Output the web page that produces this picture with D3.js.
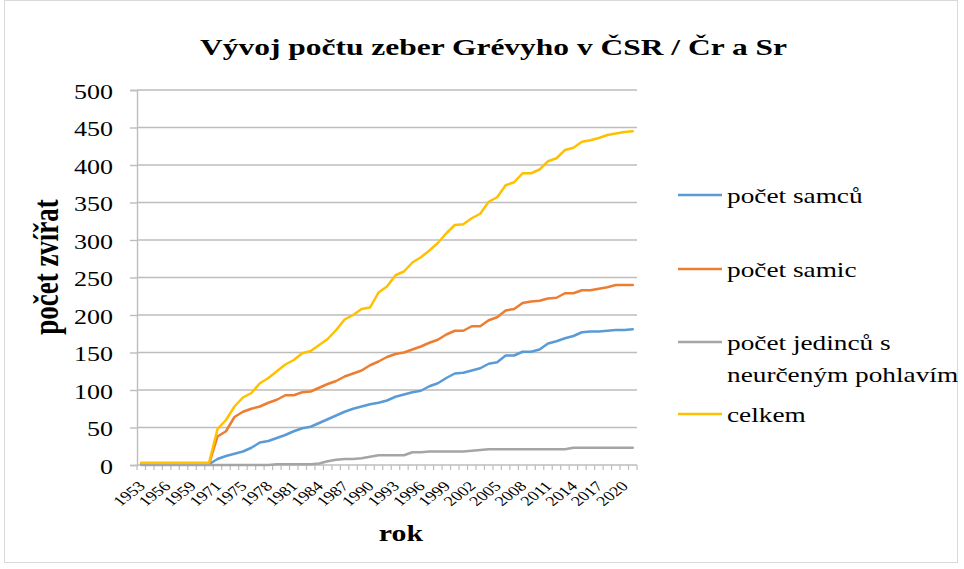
<!DOCTYPE html>
<html>
<head>
<meta charset="utf-8">
<title>Vývoj počtu zeber Grévyho</title>
<script src="https://cdn.jsdelivr.net/npm/d3@7"></script>
<style>
  body { margin: 0; background: #fff; }
  text { font-family: "Liberation Serif", "Times New Roman", serif; fill: #000; }
</style>
</head>
<body>
<svg id="chart" width="964" height="569"></svg>
<script>
// categories (years) - the reference skips some years
var roky = [1953, 1954, 1955, 1956, 1957, 1958, 1959, 1960, 1970, 1971, 1973, 1974,
  1975, 1976, 1977, 1978, 1979, 1980, 1981, 1982, 1983, 1984, 1985, 1986, 1987, 1988,
  1989, 1990, 1991, 1992, 1993, 1994, 1995, 1996, 1997, 1998, 1999, 2000, 2001, 2002,
  2003, 2004, 2005, 2006, 2007, 2008, 2009, 2010, 2011, 2012, 2013, 2014, 2015, 2016,
  2017, 2018, 2019, 2020, 2021];

var samci = [1, 1, 1, 1, 1, 1, 1, 1, 1, 8, 12, 15,
  18, 23, 30, 32, 36, 40, 45, 49, 51, 56, 61, 66, 71, 75,
  78, 81, 83, 86, 91, 94, 97, 99, 105, 109, 116, 122, 123, 126,
  129, 135, 137, 146, 146, 151, 151, 154, 162, 165, 169, 172, 177, 178,
  178, 179, 180, 180, 181];

var samice = [1, 1, 1, 1, 1, 1, 1, 1, 1, 38, 45, 64,
  71, 75, 78, 83, 87, 93, 93, 97, 98, 103, 108, 112, 118, 122,
  126, 133, 138, 144, 148, 150, 154, 158, 163, 167, 174, 179, 179, 185,
  185, 193, 197, 206, 208, 216, 218, 219, 222, 223, 229, 229, 233, 233,
  235, 237, 240, 240, 240];

var neurceno = [0, 0, 0, 0, 0, 0, 0, 0, 0, 0, 0, 0,
  0, 0, 0, 0, 1, 1, 1, 1, 1, 2, 5, 7, 8, 8,
  9, 11, 13, 13, 13, 13, 17, 17, 18, 18, 18, 18, 18, 19,
  20, 21, 21, 21, 21, 21, 21, 21, 21, 21, 21, 23, 23, 23,
  23, 23, 23, 23, 23];

var celkem = [3, 3, 3, 3, 3, 3, 3, 3, 3, 48, 60, 78,
  90, 96, 109, 116, 125, 134, 140, 149, 152, 160, 168, 180, 194, 200,
  208, 210, 230, 238, 253, 258, 270, 277, 286, 296, 309, 320, 321, 329,
  335, 351, 357, 373, 377, 389, 389, 394, 405, 409, 420, 423, 431, 433,
  436, 440, 442, 444, 445];

var yTicks = [0, 50, 100, 150, 200, 250, 300, 350, 400, 450, 500];

var series = [
  {name: "počet samců", values: samci, color: "#5b9bd5"},
  {name: "počet samic", values: samice, color: "#ed7d31"},
  {name: ["počet jedinců s", "neurčeným pohlavím"], values: neurceno, color: "#a5a5a5"},
  {name: "celkem", values: celkem, color: "#ffc000"}
];

var svg = d3.select("#chart");
var sx = 1.3; // text in the reference is stretched sideways
var plot = {left: 137, right: 637, top: 90, bottom: 465};

var x = d3.scaleBand().domain(roky).range([plot.left, plot.right]);
var y = d3.scaleLinear().domain([0, 500]).range([plot.bottom, plot.top]);

// outer frame
svg.append("rect")
  .attr("x", 4.5).attr("y", 0.5)
  .attr("width", 953).attr("height", 562)
  .attr("fill", "none").attr("stroke", "#d9d9d9");

// gridlines
svg.append("g").selectAll("line")
  .data(yTicks.slice(1))
  .enter().append("line")
  .attr("x1", plot.left).attr("x2", plot.right)
  .attr("y1", function(d) { return y(d); })
  .attr("y2", function(d) { return y(d); })
  .attr("stroke", "#bdbdbd").attr("stroke-width", 1.4);

// y axis
var yAxis = svg.append("g")
  .attr("transform", "translate(" + plot.left + ",0)")
  .call(d3.axisLeft(y).tickValues(yTicks).tickSize(7));
yAxis.select(".domain").attr("stroke", "#bdbdbd").attr("stroke-width", 1.4);
yAxis.selectAll(".tick line").attr("stroke", "#bdbdbd").attr("stroke-width", 1.4);
yAxis.selectAll(".tick text")
  .attr("x", 0).attr("dy", "0.36em")
  .attr("transform", "translate(-24,1) scale(" + sx + ",1)")
  .style("font-size", "20px")
  .style("font-family", "Liberation Serif");

// x axis: labels every third category, tick marks between categories
var xAxis = svg.append("g")
  .attr("transform", "translate(0," + plot.bottom + ")")
  .call(d3.axisBottom(x)
    .tickValues(roky.filter(function(d, i) { return i % 3 === 0; }))
    .tickSize(0));
xAxis.select(".domain").remove();
xAxis.selectAll(".tick text")
  .attr("x", 0).attr("y", 0).attr("dy", null)
  .attr("text-anchor", "end")
  .attr("transform", "translate(5,22) scale(" + sx + ",1) rotate(-45)")
  .style("font-size", "14px")
  .style("font-family", "Liberation Serif");

var edges = roky.map(function(d) { return x(d); }).concat([plot.right]);
svg.append("g").selectAll("line")
  .data(edges)
  .enter().append("line")
  .attr("x1", function(d) { return d; }).attr("x2", function(d) { return d; })
  .attr("y1", plot.bottom).attr("y2", plot.bottom + 5)
  .attr("stroke", "#bdbdbd").attr("stroke-width", 1.2);
svg.append("line")
  .attr("x1", plot.left).attr("x2", plot.right)
  .attr("y1", plot.bottom).attr("y2", plot.bottom)
  .attr("stroke", "#bdbdbd").attr("stroke-width", 1.4);

// lines
var line = d3.line()
  .x(function(d, i) { return x(roky[i]) + x.bandwidth() / 2; })
  .y(function(d) { return y(d); });

svg.append("g").selectAll("path")
  .data(series)
  .enter().append("path")
  .attr("d", function(s) { return line(s.values); })
  .attr("fill", "none")
  .attr("stroke", function(s) { return s.color; })
  .attr("stroke-width", 2.5)
  .attr("stroke-linejoin", "round")
  .attr("stroke-linecap", "round");

// titles
svg.append("text")
  .attr("x", 200).attr("y", 55)
  .attr("textLength", 587).attr("lengthAdjust", "spacingAndGlyphs")
  .style("font-size", "24px").style("font-weight", "bold")
  .text("Vývoj počtu zeber Grévyho v ČSR / Čr a Sr");

svg.append("text")
  .attr("transform", "translate(401,541) scale(" + sx + ",1)")
  .attr("text-anchor", "middle")
  .style("font-size", "23px").style("font-weight", "bold")
  .text("rok");

svg.append("text")
  .attr("transform", "translate(58,267) scale(" + sx + ",1) rotate(-90)")
  .attr("text-anchor", "middle")
  .style("font-size", "27px").style("font-weight", "bold")
  .text("počet zvířat");

// legend
var legendY = [195, 269, 342, 414];
var legend = svg.append("g").selectAll("g")
  .data(series)
  .enter().append("g")
  .attr("transform", function(d, i) { return "translate(0," + legendY[i] + ")"; });

legend.append("line")
  .attr("x1", 678).attr("x2", 722)
  .attr("y1", 0).attr("y2", 0)
  .attr("stroke", function(d) { return d.color; })
  .attr("stroke-width", 2.5);

legend.each(function(d) {
  var rows = [].concat(d.name);
  var g = d3.select(this);
  rows.forEach(function(r, j) {
    g.append("text")
      .attr("transform", "translate(727," + (8 + j * 31.5) + ") scale(" + sx + ",1)")
      .style("font-size", "21px")
      .text(r);
  });
});
</script>
</body>
</html>
